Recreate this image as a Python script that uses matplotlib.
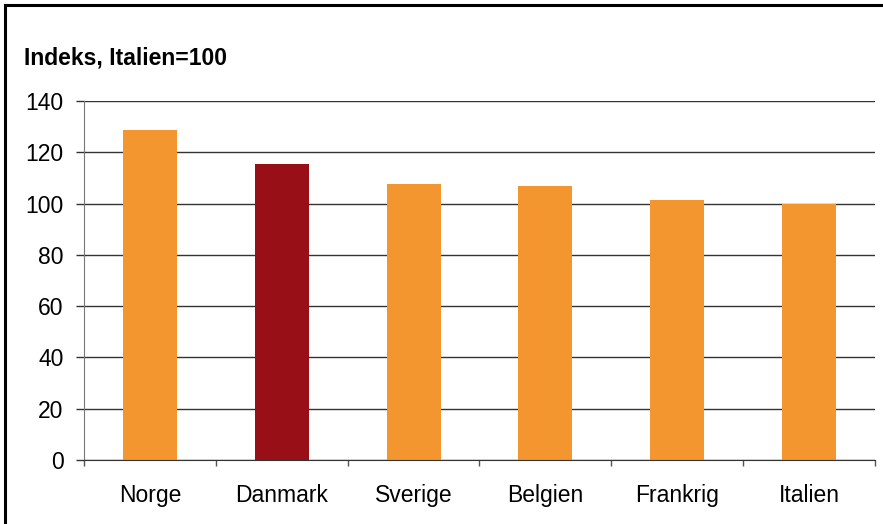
import matplotlib.pyplot as plt
import numpy as np
from matplotlib.lines import Line2D

# Prisniveau, indeks med Italien = 100
countries = ["Norge", "Danmark", "Sverige", "Belgien", "Frankrig", "Italien"]
index_values = [128.7, 115.5, 107.7, 106.9, 101.3, 100.0]
highlight = "Danmark"
y_ticks = [0, 20, 40, 60, 80, 100, 120, 140]

orange = "#F39630"
dark_red = "#990F17"

plt.rcParams["font.family"] = ["Liberation Sans", "DejaVu Sans"]

fig = plt.figure(figsize=(8.83, 5.24), dpi=100)
ax = fig.add_axes([84 / 883, 1 - 460 / 524, (875 - 84) / 883, (460 - 101) / 524])

x = np.arange(len(countries))
colors = [dark_red if c == highlight else orange for c in countries]
ax.bar(x, index_values, width=0.41, color=colors, zorder=3)

ax.set_xlim(-0.5, len(countries) - 0.5)
ax.set_ylim(0, 140)
ax.set_yticks(y_ticks)
ax.set_yticklabels([str(v) for v in y_ticks], fontsize=16.5)
ax.set_xticks(x)
ax.set_xticklabels(countries, fontsize=16.5)
ax.set_xticks(np.arange(-0.5, len(countries), 1.0), minor=True)

ax.grid(axis="y", color="#333333", linewidth=1.0, zorder=0)
ax.tick_params(axis="x", which="major", length=0, pad=17)
ax.tick_params(axis="x", which="minor", length=4.3, color="#555555", width=1)
ax.tick_params(axis="y", length=5.8, color="#333333", width=1, pad=9)

for side in ["top", "right"]:
    ax.spines[side].set_visible(False)
ax.spines["left"].set_color("#777777")
ax.spines["bottom"].set_color("#333333")
ax.spines["bottom"].set_zorder(4)

fig.text(24 / 883, 1 - 58 / 524, "Indeks, Italien=100", fontsize=16.5,
         fontweight="bold", va="center", ha="left")

# frame around the chart (left and top edges)
fig.add_artist(Line2D([5 / 883, 5 / 883], [0, 1 - 5 / 524], color="black",
                      linewidth=2.2, transform=fig.transFigure))
fig.add_artist(Line2D([5 / 883, 1], [1 - 5 / 524, 1 - 5 / 524], color="black",
                      linewidth=2.2, transform=fig.transFigure))

fig.savefig("out.png", dpi=100)
